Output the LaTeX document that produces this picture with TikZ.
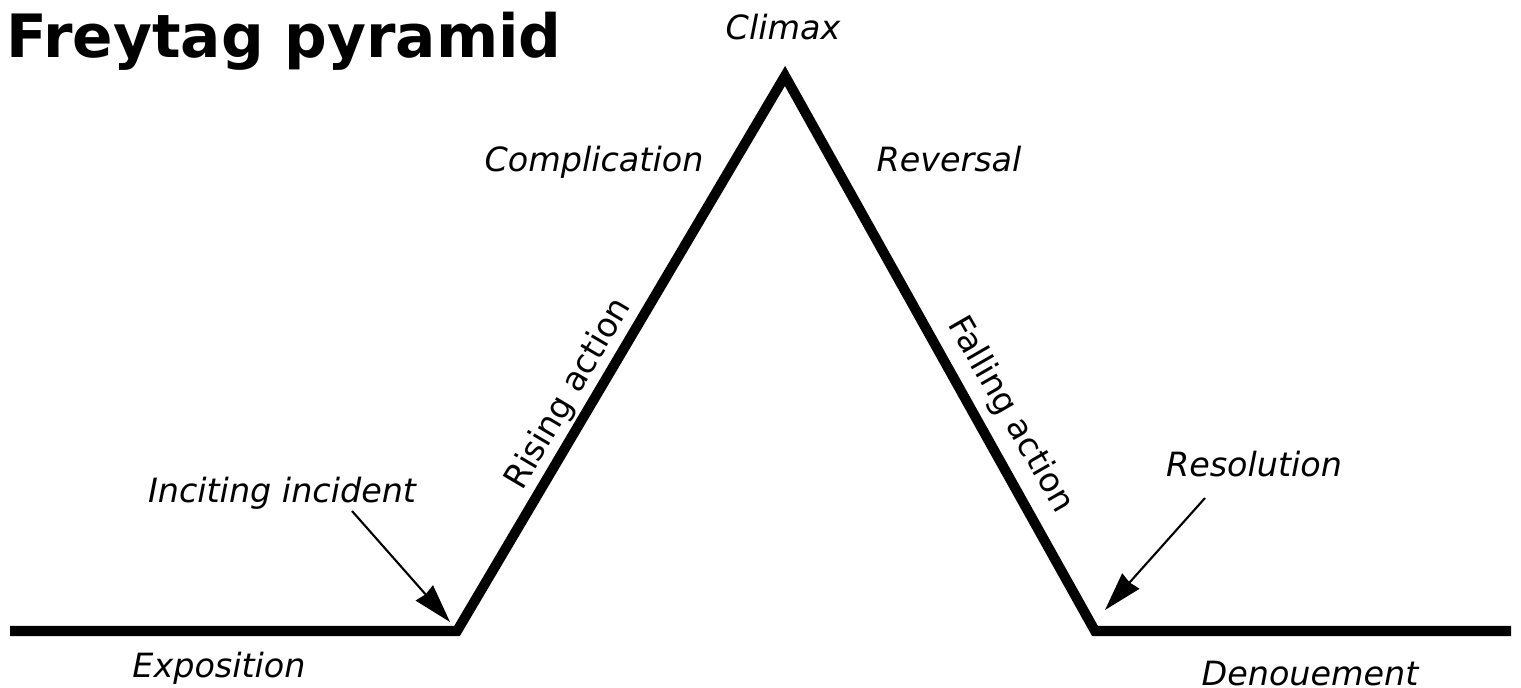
\documentclass[tikz,border=0pt]{standalone}
\usepackage{fontspec}
\setmainfont{DejaVu Sans}
\usetikzlibrary{arrows.meta}
\begin{document}
\begin{tikzpicture}[x=0.02cm,y=-0.02cm,
  lbl/.style={font=\fontsize{19}{22}\selectfont\itshape,inner sep=0,anchor=base},
  slbl/.style={font=\fontsize{19}{22}\selectfont,inner sep=0},
  pyr/.style={line width=5.7pt,line join=miter},
  ptr/.style={line width=1.2pt,-{Stealth[length=22pt,width=13pt,inset=1pt]}}]
\useasboundingbox (0,0) rectangle (1521,688);
\node[font=\fontsize{34}{38}\selectfont\bfseries,inner sep=0,anchor=base west] (title) at (6,58) {Freytag pyramid};
\coordinate (s) at (10,631);
\coordinate (c1) at (457,631);
\coordinate (top) at (785,76);
\coordinate (c2) at (1095,631);
\coordinate (e) at (1511,631);
\draw[pyr] (s) -- (c1) -- (top) -- (c2) -- (e);
\node[lbl] (climax) at (783,40) {Climax};
\node[lbl] (compl) at (594,172) {Complication};
\node[lbl] (rev) at (949,172) {Reversal};
\node[lbl] (inc) at (282,503) {Inciting incident};
\node[lbl] (res) at (1254,477) {Resolution};
\node[lbl] (expo) at (219,678) {Exposition};
\node[lbl] (den) at (1310,685) {Denouement};
\node[slbl,rotate=59.4] (rise) at (569,394) {Rising action};
\node[slbl,rotate=-60] (fall) at (1010,415) {Falling action};
\coordinate (a1s) at (352,511);
\coordinate (a1e) at (450,622);
\coordinate (a2s) at (1205,498);
\coordinate (a2e) at (1105,610);
\draw[ptr] (a1s) -- (a1e);
\draw[ptr] (a2s) -- (a2e);
\end{tikzpicture}
\end{document}
